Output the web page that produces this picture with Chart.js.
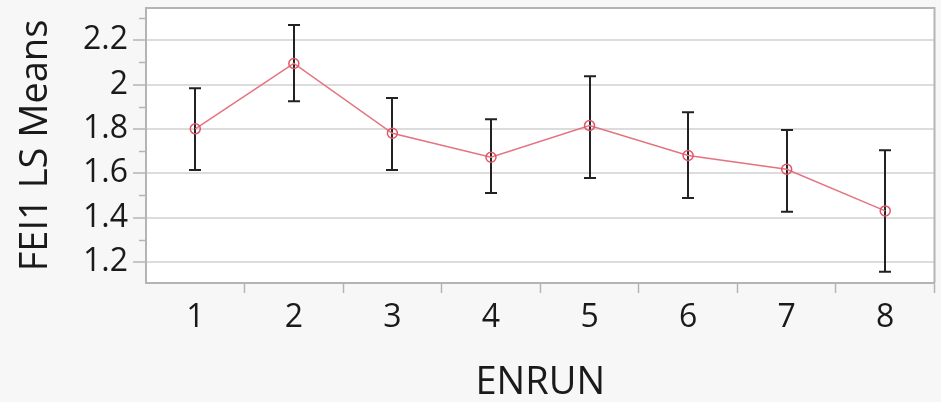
<!DOCTYPE html>
<html>
<head>
<meta charset="utf-8">
<script src="https://cdn.jsdelivr.net/npm/chart.js@4.4.1/dist/chart.umd.min.js"></script>
<style>
    html, body { margin: 0; padding: 0; background: #f7f7f7; }
    #wrap { width: 941px; height: 402px; }
</style>
</head>
<body>
<div id="wrap"><canvas id="lsChart" width="941" height="402"></canvas></div>
<script>
const categories = ['1', '2', '3', '4', '5', '6', '7', '8'];
const lsMeans = [1.80, 2.095, 1.78, 1.672, 1.815, 1.68, 1.618, 1.43];
const upperCI = [1.983, 2.268, 1.939, 1.843, 2.037, 1.875, 1.795, 1.704];
const lowerCI = [1.614, 1.925, 1.614, 1.511, 1.578, 1.488, 1.426, 1.156];
const yTicks = [1.2, 1.4, 1.6, 1.8, 2.0, 2.2];
const yTickLabels = ['1.2', '1.4', '1.6', '1.8', '2', '2.2'];
const yMinorTicks = [1.3, 1.5, 1.7, 1.9, 2.1, 2.3];

const fontFamily = "'Open Sans', 'Noto Sans', sans-serif";
const axisGray = '#b4b4b4';

// panel background, white plot area, box round it, minor ticks
const framePlugin = {
    id: 'frame',
    beforeDraw(chart) {
        const { ctx, chartArea: a } = chart;
        ctx.save();
        ctx.fillStyle = '#f7f7f7';
        ctx.fillRect(0, 0, chart.width, chart.height);
        ctx.fillStyle = '#ffffff';
        ctx.fillRect(a.left, a.top, a.right - a.left, a.bottom - a.top);
        ctx.restore();
    },
    afterDraw(chart) {
        const { ctx, chartArea: a } = chart;
        const y = chart.scales.y;
        ctx.save();
        ctx.strokeStyle = axisGray;
        ctx.lineWidth = 2;
        ctx.beginPath();
        ctx.moveTo(a.left, a.top);
        ctx.lineTo(a.right, a.top);
        ctx.lineTo(a.right, a.bottom);
        ctx.stroke();
        ctx.lineWidth = 1.5;
        yMinorTicks.forEach(v => {
            const py = Math.round(y.getPixelForValue(v)) + 0.5;
            ctx.beginPath();
            ctx.moveTo(a.left - 7, py);
            ctx.lineTo(a.left, py);
            ctx.stroke();
        });
        ctx.restore();
    }
};

const errorBarPlugin = {
    id: 'errorBars',
    beforeDatasetsDraw(chart) {
        const { ctx } = chart;
        const x = chart.scales.x;
        const y = chart.scales.y;
        ctx.save();
        ctx.strokeStyle = '#222222';
        ctx.lineWidth = 2;
        categories.forEach((c, i) => {
            const px = Math.round(x.getPixelForValue(i));
            const top = y.getPixelForValue(upperCI[i]);
            const bot = y.getPixelForValue(lowerCI[i]);
            ctx.beginPath();
            ctx.moveTo(px, top);
            ctx.lineTo(px, bot);
            ctx.moveTo(px - 6, top);
            ctx.lineTo(px + 6, top);
            ctx.moveTo(px - 6, bot);
            ctx.lineTo(px + 6, bot);
            ctx.stroke();
        });
        ctx.restore();
    }
};

new Chart(document.getElementById('lsChart').getContext('2d'), {
    type: 'line',
    data: {
        labels: categories,
        datasets: [{
            label: 'FEI1 LS Means',
            data: lsMeans,
            borderColor: '#e5737f',
            borderWidth: 1.5,
            tension: 0,
            fill: false,
            pointStyle: 'circle',
            pointRadius: 5,
            pointBorderWidth: 1.5,
            pointBorderColor: '#e05667',
            pointBackgroundColor: 'rgba(255,255,255,0)'
        }]
    },
    options: {
        responsive: false,
        animation: false,
        devicePixelRatio: 1,
        layout: { padding: { top: 8, right: 1, left: 0, bottom: 0 } },
        plugins: {
            legend: { display: false },
            tooltip: { enabled: false }
        },
        scales: {
            x: {
                type: 'category',
                offset: true,
                afterFit: s => { s.height = 119; s.paddingLeft = 0; s.paddingRight = 0; },
                grid: {
                    offset: true,
                    drawOnChartArea: false,
                    drawTicks: true,
                    tickLength: 10,
                    tickWidth: 1.5,
                    tickColor: ctx => (ctx.index === 0 || ctx.index >= categories.length) ? 'rgba(0,0,0,0)' : axisGray
                },
                border: { display: true, color: axisGray, width: 2 },
                ticks: {
                    color: '#1a1a1a',
                    padding: 6,
                    font: { family: fontFamily, size: 32 },
                    maxRotation: 0
                },
                title: {
                    display: true,
                    text: 'ENRUN',
                    color: '#1a1a1a',
                    font: { family: fontFamily, size: 38, lineHeight: 1 },
                    padding: { top: 0, bottom: 0 }
                }
            },
            y: {
                type: 'linear',
                min: 1.105,
                max: 2.345,
                afterFit: s => { s.width = 146; s.paddingTop = 0; s.paddingBottom = 0; },
                afterBuildTicks: s => { s.ticks = yTicks.map(v => ({ value: v })); },
                grid: {
                    color: '#dcdcdc',
                    lineWidth: 2,
                    drawTicks: true,
                    tickLength: 13,
                    tickWidth: 1.5,
                    tickColor: axisGray
                },
                border: { display: true, color: axisGray, width: 2 },
                ticks: {
                    color: '#1a1a1a',
                    padding: 5,
                    font: { family: fontFamily, size: 32 },
                    callback: (v, i) => yTickLabels[i]
                },
                title: {
                    display: true,
                    text: 'FEI1 LS Means',
                    color: '#1a1a1a',
                    font: { family: fontFamily, size: 38, lineHeight: 1 },
                    padding: { top: 17, bottom: 0 }
                }
            }
        }
    },
    plugins: [framePlugin, errorBarPlugin]
});
</script>
</body>
</html>
